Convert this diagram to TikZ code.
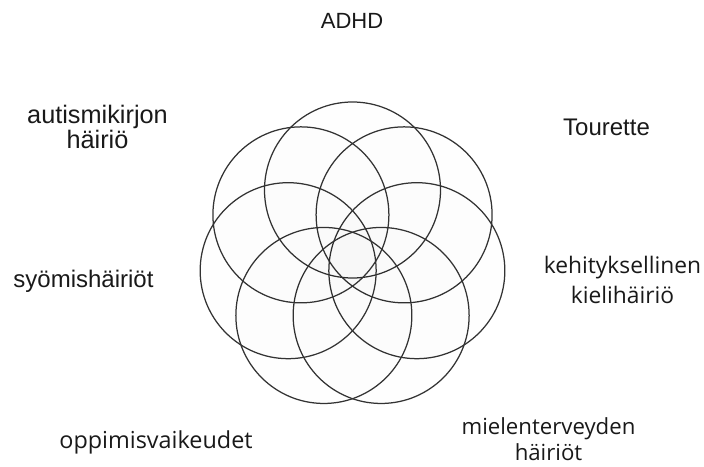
\documentclass[tikz,border=0pt]{standalone}
\usepackage{fontspec}
\usetikzlibrary{calc}
\setmainfont{Liberation Sans}
\newfontfamily\aptosfont{Open Sans}
\begin{document}
\begin{tikzpicture}[x=1pt,y=-1pt,
  petal/.style={draw=black!80, line width=1.25pt, fill=black, fill opacity=0.004},
  lblA/.style={font=\fontsize{24}{25}\selectfont, text=black!90, inner sep=0pt, align=center},
  lblB/.style={font=\aptosfont\fontsize{22.8}{30}\selectfont, text=black!90, inner sep=0pt, align=center}]
\useasboundingbox (0,0) rectangle (704,466);
\coordinate (ctr) at (352.5,256);
\foreach \i in {0,...,6} {
  \path[petal] ($(ctr)+({-90+\i*360/7}:66)$) circle (88);
}
\node[lblA, anchor=base, font=\fontsize{22}{25}\selectfont] (adhd) at (352,28) {ADHD};
\node[lblA, font=\fontsize{25.3}{25}\selectfont] (autism) at (97.5,127) {autismikirjon\\häiriö};
\node[lblA, anchor=base] (tourette) at (606.5,135) {Tourette};
\node[lblA, anchor=base] (syomis) at (83.5,287) {syömishäiriöt};
\node[lblB] (kieli) at (622.5,279.5) {kehityksellinen\\kielihäiriö};
\node[lblB, font=\aptosfont\fontsize{22.2}{26}\selectfont] (mielen) at (548.5,439) {mielenterveyden\\häiriöt};
\node[lblB, anchor=base, font=\aptosfont\fontsize{23.4}{26}\selectfont] (oppimis) at (156,448) {oppimisvaikeudet};
\end{tikzpicture}
\end{document}
